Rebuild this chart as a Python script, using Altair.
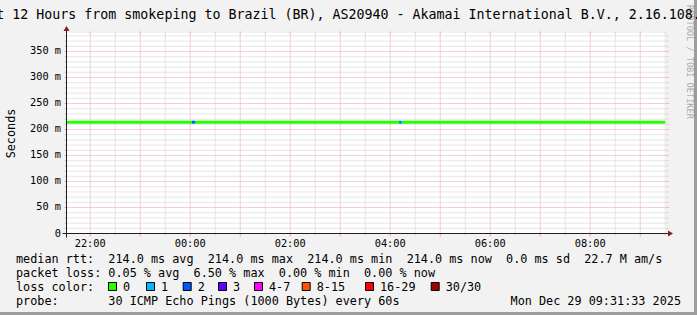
import altair as alt
import pandas as pd

# ---------------- chart content ----------------
title_text = "Last 12 Hours from smokeping to Brazil (BR), AS20940 - Akamai International B.V., 2.16.108.145"
y_label = "Seconds"
window_start = "21:31:33"
window_end = "09:31:33"

# median rtt segments (start, end, median ms, packet-loss class)
seg_start = ["21:31:33", "00:01:50", "00:05:45", "04:10:50", "04:12:50", "04:14:10"]
seg_end = ["00:01:50", "00:05:45", "04:10:50", "04:12:50", "04:14:10", "09:30:00"]
seg_median = [214.0, 214.0, 214.0, 214.0, 214.0, 214.0]
seg_loss = ["0", "2", "0", "2", "1", "0"]

loss_labels = ["0", "1", "2", "3", "4-7", "8-15", "16-29", "30/30"]
loss_colors = ["#26ff00", "#00b8ff", "#0059ff", "#5e00ff", "#ff00ff", "#ff5500", "#ff0000", "#a10000"]

y_ticks = [0, 50, 100, 150, 200, 250, 300, 350]
y_tick_labels = ["0", "50 m", "100 m", "150 m", "200 m", "250 m", "300 m", "350 m"]
y_minor = [10, 20, 30, 40, 60, 70, 80, 90, 110, 120, 130, 140, 160, 170, 180, 190,
           210, 220, 230, 240, 260, 270, 280, 290, 310, 320, 330, 340, 360, 370, 380]
y_major = [50, 100, 150, 200, 250, 300, 350]
x_major = ["22:00", "23:00", "00:00", "01:00", "02:00", "03:00", "04:00", "05:00",
           "06:00", "07:00", "08:00", "09:00"]
x_minor = ["22:30", "23:30", "00:30", "01:30", "02:30", "03:30", "04:30", "05:30",
           "06:30", "07:30", "08:30", "09:30"]
x_tick_labels = ["22:00", "00:00", "02:00", "04:00", "06:00", "08:00"]

legend_rtt = "median rtt:  214.0 ms avg  214.0 ms max  214.0 ms min  214.0 ms now  0.0 ms sd  22.7 M am/s"
legend_loss = "packet loss: 0.05 % avg  6.50 % max  0.00 % min  0.00 % now"
legend_color = "loss color:"
legend_probe = "probe:       30 ICMP Echo Pings (1000 Bytes) every 60s"
timestamp = "Mon Dec 29 09:31:33 2025"
watermark = "RRDTOOL / TOBI OETIKER"

# ---------------- layout (pixels) ----------------
W, H = 600, 200
PL, PT = 66.5, 33.5
FONT = "DejaVu Sans Mono"
legend_box_x = [108, 146, 182.7, 218, 254, 301.7, 365, 430.7]
row_base = [263, 277, 291, 305]


def hours(t):
    parts = [int(p) for p in t.split(":")] + [0]
    v = parts[0] + parts[1] / 60 + parts[2] / 3600
    return v + 24 if v < 12 else v


def keep_spaces(s):
    # SVG collapses runs of spaces; use no-break spaces so columns line up
    return s.replace(" ", "\u00a0")


T0, T1 = hours(window_start), hours(window_end)
xs = alt.Scale(domain=[T0, T1], nice=False, zero=False)
ys = alt.Scale(domain=[0, 384.6], nice=False, zero=False)
loss_scale = alt.Scale(domain=loss_labels, range=loss_colors)
one = pd.DataFrame({"a": [0]})

layers = []

# frame shade (bottom / right)
shade = pd.DataFrame({"x0": [-PL, 694 - PL], "x1": [697 - PL, 697 - PL],
                      "y0": [312 - PT, -PT], "y1": [315 - PT, 315 - PT]})
layers.append(alt.Chart(shade).mark_rect(color="#9e9e9e").encode(
    x=alt.X("x0:Q", scale=None), x2="x1:Q", y=alt.Y("y0:Q", scale=None), y2="y1:Q"))

# white canvas
layers.append(alt.Chart(one).mark_rect(color="white").encode(
    x=alt.value(-0.5), x2=alt.value(W - 0.5), y=alt.value(-0.5), y2=alt.value(H - 0.5)))

# grid
hmin = pd.DataFrame({"v": y_minor})
hmaj = pd.DataFrame({"v": y_major})
vmin = pd.DataFrame({"t": [hours(t) for t in x_minor]})
vmaj = pd.DataFrame({"t": [hours(t) for t in x_major]})
MINC, MAJC = "#cdcdcd", "#e9a3a3"
for df, col in ((hmin, MINC), (hmaj, MAJC)):
    layers.append(alt.Chart(df).mark_rule(stroke=col, strokeWidth=1, strokeDash=[1, 1]).encode(
        y=alt.Y("v:Q", scale=ys, axis=None), x=alt.value(0), x2=alt.value(W)))
    for a, b in ((-2, 0), (W, W + 2)):
        layers.append(alt.Chart(df).mark_rule(stroke=col, strokeWidth=1).encode(
            y=alt.Y("v:Q", scale=ys, axis=None), x=alt.value(a), x2=alt.value(b)))
for df, col, blen in ((vmin, MINC, 2), (vmaj, MAJC, 3)):
    layers.append(alt.Chart(df).mark_rule(stroke=col, strokeWidth=1, strokeDash=[1, 1]).encode(
        x=alt.X("t:Q", scale=xs, axis=None), y=alt.value(0), y2=alt.value(H)))
    for a, b in ((-2, 0), (H, H + blen)):
        layers.append(alt.Chart(df).mark_rule(stroke=col, strokeWidth=1).encode(
            x=alt.X("t:Q", scale=xs, axis=None), y=alt.value(a), y2=alt.value(b)))

# median rtt line coloured by loss
seg = pd.DataFrame({"t0": [hours(t) for t in seg_start], "t1": [hours(t) for t in seg_end],
                    "median": seg_median, "loss": seg_loss})
layers.append(alt.Chart(seg).mark_rule(strokeWidth=3).encode(
    x=alt.X("t0:Q", scale=xs, axis=None), x2="t1:Q",
    y=alt.Y("median:Q", scale=ys, axis=None),
    color=alt.Color("loss:N", scale=loss_scale, legend=None)))

# axes
AX = "#1f1f1f"
layers.append(alt.Chart(one).mark_rule(stroke=AX, strokeWidth=1).encode(
    x=alt.value(-4), x2=alt.value(W + 4), y=alt.value(H)))
layers.append(alt.Chart(one).mark_rule(stroke=AX, strokeWidth=1).encode(
    x=alt.value(0), y=alt.value(-4), y2=alt.value(H + 4)))
ARROW = "#801f1f"
layers.append(alt.Chart(one).mark_point(
    shape="M0,-0.833L1,0.833L-1,0.833Z", filled=True, fill=ARROW, strokeWidth=0, opacity=1, size=36
).encode(x=alt.value(0), y=alt.value(-5)))
layers.append(alt.Chart(one).mark_point(
    shape="M0.833,0L-0.833,1L-0.833,-1Z", filled=True, fill=ARROW, strokeWidth=0, opacity=1, size=36
).encode(x=alt.value(W + 4), y=alt.value(H)))

# tick labels
ytl = pd.DataFrame({"v": y_ticks, "label": [keep_spaces(s) for s in y_tick_labels]})
layers.append(alt.Chart(ytl).mark_text(font=FONT, fontSize=10.3, align="right", baseline="middle",
                                       color="black").encode(
    y=alt.Y("v:Q", scale=ys, axis=None), x=alt.value(-5.5), text="label:N"))
xtl = pd.DataFrame({"t": [hours(t) for t in x_tick_labels], "label": x_tick_labels})
layers.append(alt.Chart(xtl).mark_text(font=FONT, fontSize=10.3, align="center", baseline="alphabetic",
                                       color="black").encode(
    x=alt.X("t:Q", scale=xs, axis=None), y=alt.value(246.5 - PT), text="label:N"))

# title
layers.append(alt.Chart(one).mark_text(font=FONT, fontSize=13.3, align="center", baseline="alphabetic",
                                       color="black", text=keep_spaces(title_text)).encode(
    x=alt.value(348.5 - PL), y=alt.value(18.5 - PT)))
# y label
layers.append(alt.Chart(one).mark_text(font=FONT, fontSize=11.8, align="center", baseline="middle",
                                       angle=270, color="black", text=y_label).encode(
    x=alt.value(10.5 - PL), y=alt.value(133.5 - PT)))

# legend text rows
rows = pd.DataFrame({"text": [keep_spaces(s) for s in (legend_rtt, legend_loss, legend_color, legend_probe)],
                     "px": [16 - PL] * 4, "py": [r - PT for r in row_base]})
layers.append(alt.Chart(rows).mark_text(font=FONT, fontSize=11.8, align="left", baseline="alphabetic",
                                        color="black").encode(
    x=alt.X("px:Q", scale=None), y=alt.Y("py:Q", scale=None), text="text:N"))
layers.append(alt.Chart(one).mark_text(font=FONT, fontSize=11.8, align="right", baseline="alphabetic",
                                       color="black", text=keep_spaces(timestamp)).encode(
    x=alt.value(681 - PL), y=alt.value(row_base[3] - PT)))

# loss colour boxes
boxes = pd.DataFrame({"loss": loss_labels,
                      "b0": [b + 0.5 - PL for b in legend_box_x],
                      "b1": [b + 8.5 - PL for b in legend_box_x],
                      "lx": [b + 15 - PL for b in legend_box_x]})
layers.append(alt.Chart(boxes).mark_rect(stroke="black", strokeWidth=1, opacity=1).encode(
    x=alt.X("b0:Q", scale=None), x2="b1:Q",
    y=alt.value(282.5 - PT), y2=alt.value(290.5 - PT),
    color=alt.Color("loss:N", scale=loss_scale, legend=None)))
layers.append(alt.Chart(boxes).mark_text(font=FONT, fontSize=11.8, align="left", baseline="alphabetic",
                                         color="black").encode(
    x=alt.X("lx:Q", scale=None), y=alt.value(row_base[2] - PT), text="loss:N"))

# watermark
layers.append(alt.Chart(one).mark_text(font=FONT, fontSize=8.6, align="left", baseline="middle",
                                       angle=90, color="black", opacity=0.3,
                                       text=keep_spaces(watermark)).encode(
    x=alt.value(689.5 - PL), y=alt.value(5 - PT)))

chart = alt.layer(*layers).properties(
    width=W, height=H,
    padding={"left": PL, "top": PT, "right": 697 - W - PL, "bottom": 315 - H - PT},
    autosize=alt.AutoSizeParams(type="none"),
    background="#f2f2f2",
).configure_view(strokeWidth=0)

chart.save("out.html", embed_options={"renderer": "svg", "actions": False})
